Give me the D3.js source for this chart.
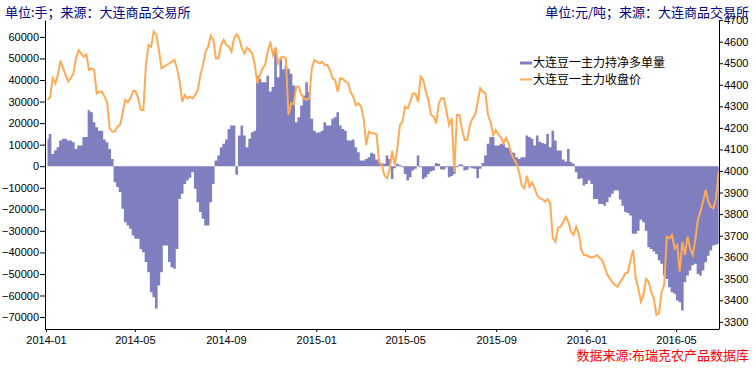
<!DOCTYPE html>
<html lang="zh">

<head>
    <meta charset="UTF-8" />
    <title>豆一主力持仓</title>
    <script src="https://cdn.jsdelivr.net/npm/d3@7"></script>
    <style>
        body { margin: 0; background: #fff; }
        text { font-family: "Liberation Sans", Arial, sans-serif; }
        .cn { font-family: "Noto Sans CJK SC", sans-serif; }
    </style>
</head>

<body>
<script>
    let w = 756;
    let h = 369;

    // readings twice a week (every 3.5 days), first one on 2014-01-03
    const firstDay = "2014-01-03";
    const netLong = [
        12700, 15000, 5700, 7300, 8800, 11900, 12700, 12700, 11900, 11900,
        11100, 8000, 9600, 9600, 13500, 13500, 26000, 25000, 20400, 18100,
        16500, 16500, 12400, 11100, 8000, 3400, -7400, -9700, -12000, -19800,
        -26000, -27500, -29000, -32200, -33700, -33700, -38400, -39900, -44500, -49200,
        -58500, -60800, -66000, -55400, -49200, -36800, -36800, -44500, -46900, -47600,
        -38400, -15200, -12800, -8200, -6600, -5400, -2800, -10500, -16700, -21300,
        -24400, -27500, -27500, -16700, -8200, 2600, 5000, 8800, 10400, 12400,
        17300, 18900, 18900, -4000, 14200, 18900, 14200, 8800, 12700, 15800,
        16500, 42000, 40500, 39000, 39000, 42000, 34700, 36700, 55000, 41300,
        49800, 45000, 46700, 45200, 42900, 37400, 20400, 22700, 28200, 32800,
        39000, 34300, 22000, 16500, 15500, 15800, 16500, 20400, 18900, 18900,
        22000, 22700, 25000, 18900, 17300, 16500, 11900, 11900, 12400, 8800,
        6500, 2600, 2600, 3400, 4200, 6200, 5700, 3100, 2200, 1400,
        1100, 5000, 3400, -5900, -900, 1100, 600, -500, -3600, -6600,
        -5100, -2000, -1200, 5000, -500, -5900, -5100, -3600, -2500, -2000,
        1500, 1100, -1500, -1500, -500, -5100, -4600, -3600, -500, 800,
        800, -2000, -1700, -500, -900, -1200, -5600, -1200, 1500, 5000,
        10400, 13500, 13500, 9600, 9600, 10400, 10400, 8800, 8400, 6500,
        6200, 4200, 3400, 4200, 4200, 14200, 13500, 12700, 9600, 14200,
        11400, 10800, 10400, 15000, 8800, 16500, 11900, 7300, 7300, 3100,
        2200, 8000, 1900, 1100, -2800, -5900, -5600, -9000, -8200, -6600,
        -8200, -15200, -15200, -17500, -17500, -18300, -16700, -14400, -12800, -11300,
        -11300, -15500, -18300, -21300, -21700, -22900, -31400, -31400, -29900, -24800,
        -26000, -29900, -37600, -38400, -39600, -40700, -43800, -45300, -50700, -52300,
        -56200, -58500, -59200, -62300, -63100, -67000, -53800, -50700, -48400, -46000,
        -45300, -50000, -50700, -48400, -44600, -41500, -39100, -36800, -36500, -36000
    ];
    const closePrice = [
        4330, 4342, 4430, 4407, 4445, 4512, 4476, 4445, 4415, 4430,
        4453, 4523, 4560, 4546, 4530, 4541, 4469, 4476, 4469, 4360,
        4368, 4368, 4345, 4319, 4198, 4183, 4183, 4206, 4213, 4268,
        4330, 4319, 4337, 4371, 4371, 4337, 4283, 4283, 4492, 4585,
        4577, 4647, 4631, 4562, 4476, 4484, 4492, 4500, 4507, 4515,
        4476, 4415, 4322, 4353, 4337, 4345, 4337, 4353, 4376, 4445,
        4492, 4554, 4577, 4628, 4608, 4523, 4523, 4585, 4608, 4585,
        4577, 4554, 4615, 4634, 4615, 4570, 4546, 4572, 4560, 4546,
        4492, 4407, 4445, 4476, 4492, 4554, 4600, 4538, 4572, 4500,
        4526, 4530, 4523, 4260, 4314, 4310, 4391, 4391, 4353, 4337,
        4330, 4337, 4476, 4515, 4507, 4500, 4507, 4492, 4492, 4469,
        4430, 4422, 4368, 4430, 4427, 4415, 4407, 4365, 4345, 4306,
        4314, 4299, 4244, 4120, 4183, 4175, 4175, 4170, 4040, 4028,
        3981, 3966, 4005, 4093, 4028, 4105, 4213, 4229, 4299, 4291,
        4322, 4360, 4360, 4322, 4438, 4422, 4368, 4330, 4260, 4252,
        4221, 4314, 4337, 4337, 4275, 4213, 4244, 3997, 4260, 4260,
        4190, 4144, 4144, 4213, 4244, 4260, 4319, 4384, 4368, 4360,
        4260, 4226, 4167, 4190, 4170, 4155, 4128, 4155, 4124, 4082,
        4056, 4036, 3994, 3935, 3920, 3978, 3927, 3947, 3920, 3886,
        3873, 3870, 3858, 3870, 3850, 3688, 3672, 3737, 3742, 3762,
        3788, 3765, 3718, 3703, 3742, 3711, 3633, 3610, 3610, 3602,
        3599, 3602, 3610, 3598, 3587, 3556, 3520, 3502, 3483, 3471,
        3463, 3486, 3502, 3525, 3530, 3587, 3633, 3502, 3455, 3394,
        3425, 3499, 3486, 3437, 3409, 3332, 3339, 3440, 3471, 3695,
        3688, 3703, 3641, 3657, 3533, 3672, 3610, 3695, 3641, 3610,
        3680, 3773, 3814, 3858, 3912, 3858, 3834, 3827, 3873, 3997
    ];
    const leftTicks = [-70000, -60000, -50000, -40000, -30000, -20000, -10000, 0, 10000, 20000, 30000, 40000, 50000, 60000];
    const rightTicks = [3300, 3400, 3500, 3600, 3700, 3800, 3900, 4000, 4100, 4200, 4300, 4400, 4500, 4600, 4700];
    const monthTicks = ["2014-01", "2014-05", "2014-09", "2015-01", "2015-05", "2015-09", "2016-01", "2016-05"];
    const legendNames = ["大连豆一主力持净多单量", "大连豆一主力收盘价"];

    const parse = d3.timeParse("%Y-%m-%d");
    const parseMonth = d3.timeParse("%Y-%m");
    let start = parse(firstDay);
    let data = netLong.map(function (v, i) {
        return { date: d3.timeHour.offset(start, 84 * i), net: v, price: closePrice[i] };
    });

    let svg = d3.select("body").append("svg")
        .attr("width", w)
        .attr("height", h);

    let x = d3.scaleTime()
        .domain([parse("2014-01-01"), parse("2016-06-28")])
        .range([46, 719]);
    let yL = d3.scaleLinear().domain([-75540, 67840]).range([329, 20]);
    let yR = d3.scaleLinear().domain([3267, 4700.6]).range([329, 20]);

    let barColor = "#7f7fbf";
    let lineColor = "#ffaa55";

    // net long positions, drawn as stepped columns with no gaps
    let bars = d3.area()
        .curve(d3.curveStep)
        .x(function (d) { return x(d.date); })
        .y0(yL(0))
        .y1(function (d) { return yL(d.net); });
    svg.append("path")
        .datum(data)
        .attr("d", bars)
        .attr("fill", barColor);

    // closing price
    let line = d3.line()
        .x(function (d) { return x(d.date); })
        .y(function (d) { return yR(d.price); });
    svg.append("path")
        .datum(data)
        .attr("d", line)
        .attr("fill", "none")
        .attr("stroke", lineColor)
        .attr("stroke-width", 2);

    // axes
    let axL = svg.append("g")
        .attr("transform", "translate(45,0)")
        .call(d3.axisLeft(yL).tickValues(leftTicks).tickFormat(d3.format("d"))
            .tickSize(5).tickSizeOuter(0).tickPadding(1));
    let axR = svg.append("g")
        .attr("transform", "translate(719,0)")
        .call(d3.axisRight(yR).tickValues(rightTicks).tickFormat(d3.format("d"))
            .tickSize(4).tickSizeOuter(0).tickPadding(1));
    let axB = svg.append("g")
        .attr("transform", "translate(0,329)")
        .call(d3.axisBottom(x).tickValues(monthTicks.map(parseMonth))
            .tickFormat(d3.timeFormat("%Y-%m")).tickSize(3).tickSizeOuter(0).tickPadding(4));
    axB.select(".domain").attr("d", "M45,0.5H719");

    [axL, axR, axB].forEach(function (a) {
        a.selectAll("text").attr("font-size", 11).attr("fill", "#000")
            .style("font-family", "'Liberation Sans', Arial, sans-serif");
        a.selectAll("line, path").attr("stroke", "#000");
    });

    // titles
    svg.append("text").attr("class", "cn")
        .attr("x", 5).attr("y", 17)
        .attr("font-size", 13).attr("fill", "#000080")
        .text("单位:手；来源：大连商品交易所");
    svg.append("text").attr("class", "cn")
        .attr("x", 749).attr("y", 17)
        .attr("text-anchor", "end")
        .attr("font-size", 13).attr("fill", "#000080")
        .text("单位:元/吨；来源：大连商品交易所");
    svg.append("text").attr("class", "cn")
        .attr("x", 749).attr("y", 360)
        .attr("text-anchor", "end")
        .attr("font-size", 13).attr("fill", "#ff0000")
        .text("数据来源:布瑞克农产品数据库");

    // legend
    let legend = svg.append("g").attr("transform", "translate(520,63)");
    legendNames.forEach(function (name, i) {
        let g = legend.append("g").attr("transform", "translate(0," + (i * 16.5) + ")");
        g.append("line")
            .attr("x1", 0).attr("x2", 12)
            .attr("stroke", i === 0 ? barColor : lineColor)
            .attr("stroke-width", i === 0 ? 3 : 2);
        g.append("text").attr("class", "cn")
            .attr("x", 13).attr("dy", "0.35em")
            .attr("font-size", 12).attr("fill", "#000")
            .text(name);
    });
</script>
</body>

</html>
